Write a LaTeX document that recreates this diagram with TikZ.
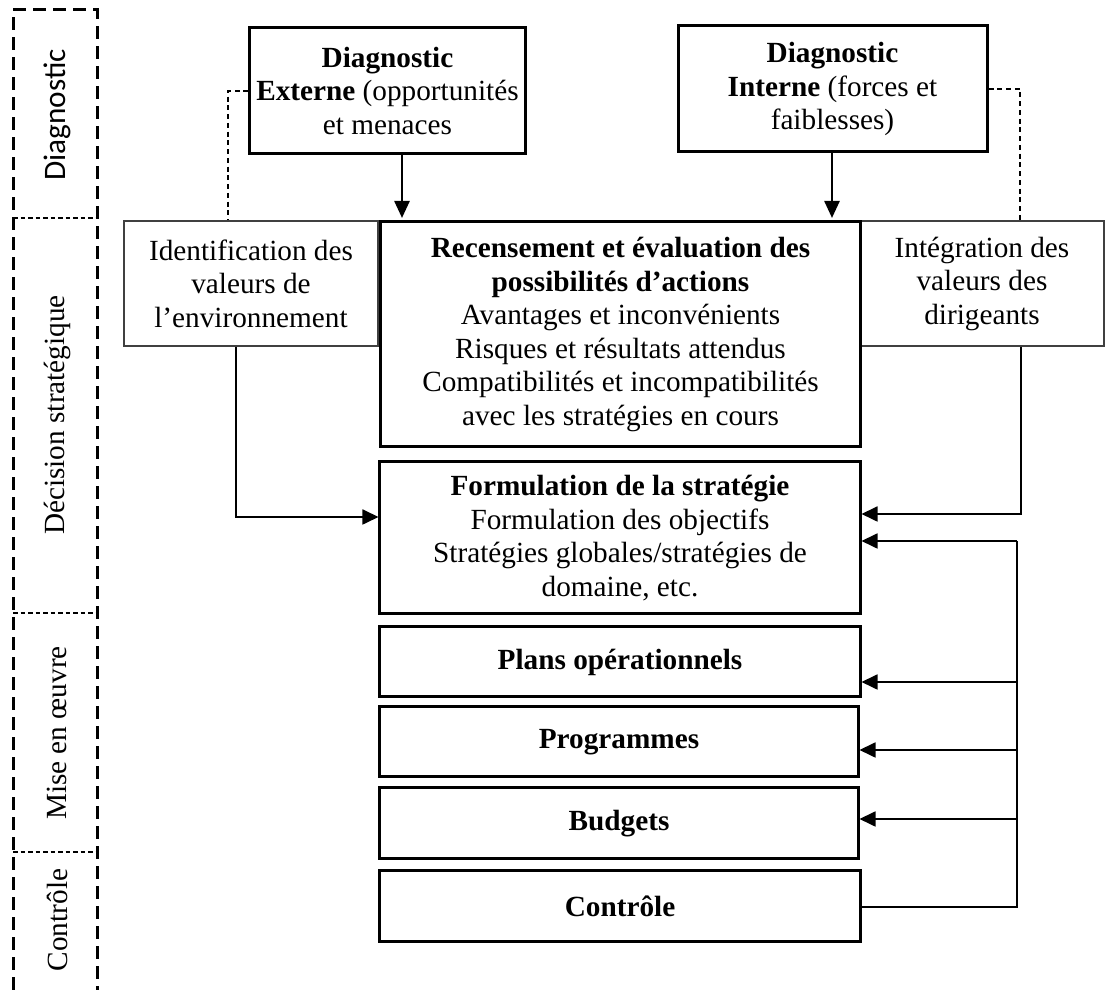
\documentclass[tikz,border=0pt]{standalone}
\usepackage{fontspec}
\setmainfont{Liberation Serif}
\newfontfamily\labelsans{Carlito}
\usetikzlibrary{arrows.meta}
\begin{document}
\begin{tikzpicture}[x=0.4pt,y=-0.4pt,
  every node/.style={font=\fontsize{11.7}{13.4}\selectfont, align=center, inner sep=0pt},
  thickbox/.style={draw, line width=1.2pt},
  thinbox/.style={draw=black!75, line width=0.6pt},
  link/.style={line width=0.7pt},
  arr/.style={link, -{Triangle[length=6.4pt,width=6pt]}},
  downarr/.style={line width=1pt, -{Triangle[length=6.8pt,width=6pt]}},
  dashlink/.style={line width=0.5pt, dash pattern=on 2pt off 1.5pt},
  phaseborder/.style={line width=1.2pt, dash pattern=on 5pt off 3pt},
  phasesep/.style={line width=0.5pt, dash pattern=on 1.8pt off 1.2pt},
  phase/.style={rotate=90}
]
\useasboundingbox (0,0) rectangle (1109,990);

% phase column
\draw[phaseborder] (13,990) -- (13,10) -- (97,10) -- (97,990);
\draw[phasesep] (13,218) -- (97,218);
\draw[phasesep] (13,613) -- (97,613);
\draw[phasesep] (13,852) -- (97,852);
\node[phase, font=\labelsans\fontsize{12.5}{15}\selectfont] (pdiag) at (57,115) {Diagnostic};
\node[phase] (pdec) at (57,415) {Décision stratégique};
\node[phase] (pmise) at (57,733) {Mise en œuvre};
\node[phase] (pctrl) at (57,920) {Contrôle};

% diagnostic boxes
\node[thickbox, minimum width=110pt, minimum height=50.4pt] (ext) at (387.5,91)
  {\textbf{Diagnostic}\\\textbf{Externe} (opportunités\\et menaces};
\node[thickbox, minimum width=123.6pt, minimum height=50.4pt] (int) at (832.5,89)
  {\textbf{Diagnostic}\\\textbf{Interne} (forces et\\faiblesses)};

% values boxes
\node[thinbox, minimum width=101.6pt, minimum height=50pt] (ident) at (251,283.5)
  {Identification des\\valeurs de\\l’environnement};
\node[thinbox, minimum width=97.6pt, minimum height=50pt] (integ) at (982,283.5)
  {Intégration des\\valeurs des\\dirigeants};

% main chain
\node[thickbox, minimum width=191.6pt, minimum height=90pt] (recens) at (620.5,334.5)
  {\textbf{Recensement et évaluation des}\\\textbf{possibilités d’actions}\\Avantages et inconvénients\\Risques et résultats attendus\\Compatibilités et incompatibilités\\avec les stratégies en cours};
\node[thickbox, minimum width=192pt, minimum height=60.8pt] (form) at (620,538)
  {\textbf{Formulation de la stratégie}\\Formulation des objectifs\\Stratégies globales/stratégies de\\domaine, etc.};
\node[thickbox, minimum width=192pt, minimum height=28pt] (plans) at (620,662)
  {\textbf{Plans opérationnels}};
\node[thickbox, minimum width=191.2pt, minimum height=28pt] (prog) at (619,742)
  {\textbf{Programmes}};
\node[thickbox, minimum width=191.2pt, minimum height=28.4pt] (budg) at (619,823.5)
  {\textbf{Budgets}};
\node[thickbox, minimum width=192pt, minimum height=28.4pt] (ctrl) at (620,906.5)
  {\textbf{Contrôle}};

% diagnostic arrows
\coordinate (xe) at (402,0);
\coordinate (xi) at (832,0);
\draw[downarr] (ext.south -| xe) -- ([yshift=1pt]recens.north -| xe);
\draw[downarr] (int.south -| xi) -- ([yshift=1pt]recens.north -| xi);

% dashed links to value boxes
\coordinate (dl) at (228,0);
\coordinate (dr) at (1020,0);
\draw[dashlink] (ext.west) -| (ident.north -| dl);
\draw[dashlink] (int.east) -| (integ.north -| dr);

% values into formulation
\coordinate (cl) at (236,517);
\coordinate (cr) at (1021,514);
\draw[arr] (ident.south -| cl) -- (cl) -- (form.west |- cl);
\draw[arr] (integ.south -| cr) -- (cr) -- (form.east |- cr);

% feedback from control
\coordinate (fb1) at (1017,541);
\coordinate (fb2) at (1017,682);
\coordinate (fb3) at (1017,750);
\coordinate (fb4) at (1017,819);
\coordinate (fb5) at (1017,907);
\draw[link, line width=0.9pt] (ctrl.east |- fb5) -- (fb5) -- (fb1);
\draw[arr] (fb1) -- (form.east |- fb1);
\draw[arr] (fb2) -- (plans.east |- fb2);
\draw[arr] (fb3) -- (prog.east |- fb3);
\draw[arr] (fb4) -- (budg.east |- fb4);
\end{tikzpicture}
\end{document}
